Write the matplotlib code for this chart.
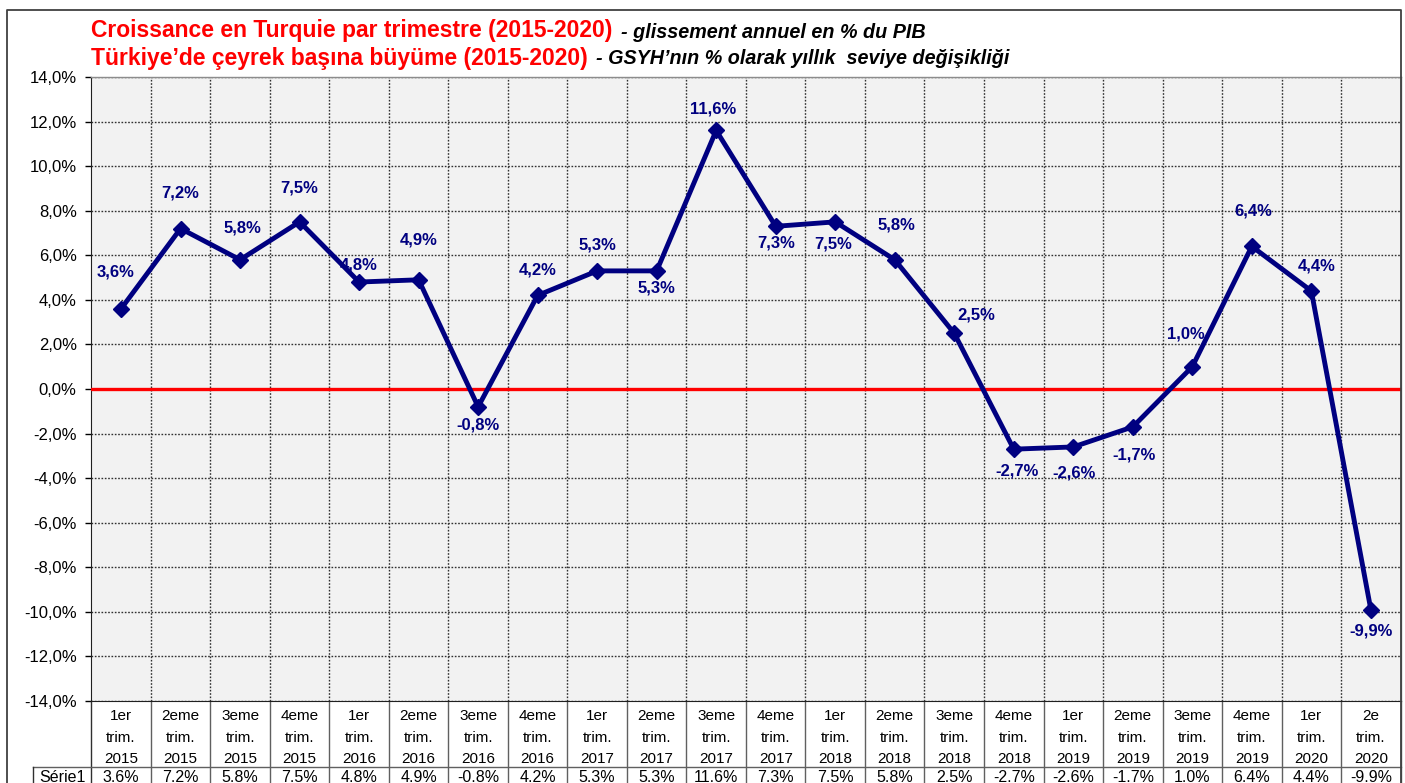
import matplotlib
matplotlib.use("Agg")
import matplotlib.pyplot as plt
from matplotlib.lines import Line2D
from matplotlib.ticker import FixedLocator, FuncFormatter

plt.rcParams['font.family'] = ['Liberation Sans', 'DejaVu Sans']

# ---------------- data ----------------
quarters = ["1er", "2eme", "3eme", "4eme", "1er", "2eme", "3eme", "4eme",
            "1er", "2eme", "3eme", "4eme", "1er", "2eme", "3eme", "4eme",
            "1er", "2eme", "3eme", "4eme", "1er", "2e"]
years = ["2015"] * 4 + ["2016"] * 4 + ["2017"] * 4 + ["2018"] * 4 + ["2019"] * 4 + ["2020"] * 2
growth = [3.6, 7.2, 5.8, 7.5, 4.8, 4.9, -0.8, 4.2, 5.3, 5.3, 11.6, 7.3,
          7.5, 5.8, 2.5, -2.7, -2.6, -1.7, 1.0, 6.4, 4.4, -9.9]
series_name = "Série1"
title_fr = "Croissance en Turquie par trimestre (2015-2020)"
sub_fr = "- glissement annuel en % du PIB"
title_tr = "Türkiye’de çeyrek başına büyüme (2015-2020)"
sub_tr = "- GSYH’nın % olarak yıllık  seviye değişikliği"
yticks = list(range(-14, 15, 2))

# label offsets in pixels (dx, dy), layout only
label_offsets = [(-5, 37), (0, 36), (2, 32), (0, 34), (0, 17), (0, 40), (0, -18),
                 (0, 25), (0, 26), (0, -17), (-3, 21), (0, -17), (-2, -22), (2, 35),
                 (22, 18), (3, -22), (1, -26), (1, -28), (-6, 33), (1, 35), (5, 25),
                 (0, -21)]

# ---------------- figure ----------------
W, H = 1405, 783
fig = plt.figure(figsize=(W / 100, H / 100), dpi=100)
fig.patch.set_facecolor("white")

ax_l, ax_r, ax_t, ax_b = 91.3, 1400.6, 77, 701
ax = fig.add_axes([ax_l / W, 1 - ax_b / H, (ax_r - ax_l) / W, (ax_b - ax_t) / H])
ax.set_facecolor("#F2F2F2")

n = len(growth)
x = list(range(n))
ax.set_xlim(-0.5, n - 0.5)
ax.set_ylim(-14, 14)

# grid
ax.yaxis.set_major_locator(FixedLocator(yticks))
ax.yaxis.set_major_formatter(FuncFormatter(lambda v, p: f"{v:.1f}%".replace(".", ",")))
ax.set_xticks([i + 0.5 for i in range(n - 1)])
ax.set_xticklabels([])
ax.tick_params(axis="x", length=0)
ax.tick_params(axis="y", length=4, width=1, pad=6.5, labelsize=12, colors="black")
ax.grid(True, which="major", color="#303030", linestyle=(0, (1.2, 1.2)), linewidth=1.0)
ax.set_axisbelow(True)

for s in ["top", "right"]:
    ax.spines[s].set_color("#8c8c8c")
    ax.spines[s].set_linewidth(1.0)
ax.spines["left"].set_color("#202020")
ax.spines["bottom"].set_color("#202020")

# zero line
ax.axhline(0, color="#FF0000", linewidth=2.4, zorder=3)

# series
ax.plot(x, growth, color="#000080", linewidth=3.5, marker="D", markersize=8.5,
        markerfacecolor="#000080", markeredgecolor="#000080", zorder=4, clip_on=False)

for xi, v, (dx, dy) in zip(x, growth, label_offsets):
    ax.annotate(f"{v:.1f}%".replace(".", ","), (xi, v), xytext=(dx, dy),
                textcoords="offset pixels", ha="center", va="center",
                fontsize=12, fontweight="bold", color="#000080", zorder=5)

# ---------------- data table ----------------
tr = ax.get_xaxis_transform()
axh = ax_b - ax_t


def yfrac(ypx):
    return (ax_b - ypx) / axh


line_col = "#606060"
for i in range(n):
    ax.text(x[i], yfrac(737.5), f"{quarters[i]}\ntrim.\n{years[i]}", transform=tr,
            ha="center", va="center", fontsize=11, linespacing=1.67, clip_on=False)
    ax.text(x[i], yfrac(778), f"{growth[i]:.1f}%", transform=tr,
            ha="center", va="center", fontsize=11.5, clip_on=False)
    ax.add_line(Line2D([x[i] + 0.5, x[i] + 0.5], [yfrac(ax_b), yfrac(800)], transform=tr,
                       color=line_col, linewidth=1.0, clip_on=False))

x_left_cell = -0.5 + (33 - ax_l) / ((ax_r - ax_l) / n)
ax.add_line(Line2D([-0.5, -0.5], [yfrac(ax_b), yfrac(800)], transform=tr,
                   color="#303030", linewidth=1.0, clip_on=False))
ax.add_line(Line2D([x_left_cell, n - 0.5], [yfrac(767), yfrac(767)], transform=tr,
                   color=line_col, linewidth=1.0, clip_on=False))
ax.add_line(Line2D([x_left_cell, x_left_cell], [yfrac(767), yfrac(800)], transform=tr,
                   color="#303030", linewidth=1.0, clip_on=False))
ax.text((x_left_cell - 0.5) / 2, yfrac(778), series_name, transform=tr,
        ha="center", va="center", fontsize=11.5, clip_on=False)

# ---------------- outer frame ----------------
fx0, fy0, fx1 = 7 / W, 1 - 10 / H, 1401 / W
fig.add_artist(Line2D([fx0, fx0, fx1, fx1], [-0.05, fy0, fy0, -0.05],
                      transform=fig.transFigure, color="#404040", linewidth=1.3))

# ---------------- titles ----------------
renderer = fig.canvas.get_renderer()


def title_line(main, sub, ypx):
    t1 = fig.text(ax_l / W, 1 - ypx / H, main, fontsize=16.5, fontweight="bold",
                  color="#FF0000", ha="left", va="center")
    bb = t1.get_window_extent(renderer=renderer)
    fig.text((bb.x1 + 8) / W, 1 - (ypx + 1) / H, sub, fontsize=14.2, fontweight="bold",
             fontstyle="italic", color="black", ha="left", va="center")


title_line(title_fr, sub_fr, 31)
title_line(title_tr, sub_tr, 58)

fig.savefig("out.png", dpi=100)
